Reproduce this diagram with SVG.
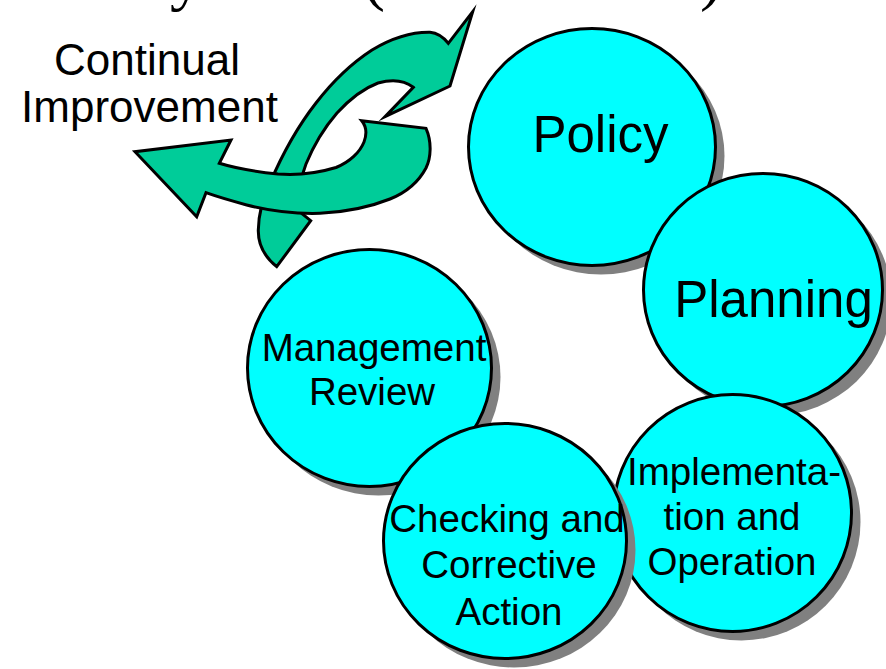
<svg xmlns="http://www.w3.org/2000/svg" width="886" height="669" viewBox="0 0 886 669">
<style>
.bg{fill:#ffffff}
.shadow{fill:#808080}
.node{fill:#00FFFF;stroke:#000;stroke-width:3}
.arrow{fill:#00CC99;stroke:#000;stroke-width:3;stroke-linejoin:miter;stroke-miterlimit:10}
.lbl{font-family:"Liberation Sans",Arial,sans-serif;fill:#000;text-anchor:middle}
.big{font-size:51px}
.small{font-size:38.5px}
.side{font-size:44px}
.title{font-family:"Liberation Serif","Times New Roman",serif;font-size:66px;fill:#000}
</style>
<rect class="bg" x="0" y="0" width="886" height="669"/>
<g id="title">
<text class="title" x="170" y="-2">y</text>
<text class="title" x="363" y="-2">(</text>
<text class="title" x="700" y="-2">)</text>
</g>
<g id="continual-improvement">
<g id="arrow-rising">
<path class="arrow" d="M276.7,266.7 C266,258 258,245 258.3,230 C258.5,214 263,198 270,183 C282,155 298,126 316,103 C333,81 352,63 372,50 C392,38 412,32 430,32.3 C438,33 444,38 448.3,43.3 L472.7,11.7 L450,86 L385,116.7 L413.3,87.3 C404,80 392,79 378,83 C362,89 348,101 337,113 C324,128 313,147 306,164 C300,180 298,196 301.7,213.3 L310.7,220.7 Z"/>
</g>
<g id="arrow-left">
<path class="arrow" d="M361.7,120.7 L426,128.3 C432,142 431,158 426,168 C418,183 405,193 390,199 C370,207 346,212 320,213.3 C296,214 270,211 246.7,205 C232,201 218,197 206,192.7 L196.7,216.7 L135,151.7 L231,140 L219.3,163.3 C238,169 258,172 278,174 C298,175.5 318,173 336,167.5 C350,162 360,152 364,142 C367,134 366,126 361.7,120.7 Z"/>
</g>
<text class="lbl side" x="147" y="75">Continual</text>
<text class="lbl side" x="149.5" y="122">Improvement</text>
</g>
<g id="policy">
<ellipse class="shadow" cx="601" cy="156" rx="123.5" ry="118.5"/>
<ellipse class="node" cx="592" cy="147" rx="123.5" ry="118.5"/>
<text class="lbl big" x="600.5" y="152">Policy</text>
</g>
<g id="planning">
<ellipse class="shadow" cx="772" cy="299" rx="119.5" ry="116.5"/>
<ellipse class="node" cx="763" cy="290" rx="119.5" ry="116.5"/>
<text class="lbl big" x="773.5" y="317">Planning</text>
</g>
<g id="implementation">
<ellipse class="shadow" cx="741.5" cy="522" rx="119" ry="118.5"/>
<ellipse class="node" cx="732.5" cy="513" rx="119" ry="118.5"/>
<text class="lbl small" x="734" y="485">Implementa-</text>
<text class="lbl small" x="732" y="530">tion and</text>
<text class="lbl small" x="732" y="575">Operation</text>
</g>
<g id="management-review">
<ellipse class="shadow" cx="378.5" cy="377" rx="122" ry="118.5"/>
<ellipse class="node" cx="369.5" cy="368" rx="122" ry="118.5"/>
<text class="lbl small" x="374" y="361">Management</text>
<text class="lbl small" x="372" y="405">Review</text>
</g>
<g id="checking">
<ellipse class="shadow" cx="514" cy="550" rx="121.5" ry="117.5"/>
<ellipse class="node" cx="505" cy="541" rx="121.5" ry="117.5"/>
<text class="lbl small" x="507" y="532">Checking and</text>
<text class="lbl small" x="509" y="578">Corrective</text>
<text class="lbl small" x="509" y="625">Action</text>
</g>
<g id="connectors"></g>
</svg>
